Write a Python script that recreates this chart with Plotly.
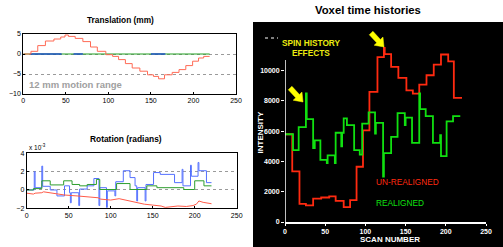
import math
import plotly.graph_objects as go

# ---------------- data ----------------
# Translation (mm): step-start scan numbers and levels
trans_scan = [0, 9, 17, 26, 36, 44, 49, 53, 61, 70, 79, 87, 97, 105, 112, 120, 128,
              137, 146, 153, 159, 166, 175, 183, 191, 199, 206, 212, 219]
trans_x = [0, 0.67, 2.1, 3.25, 3.75, 4.25, 4.75, 4.4, 3.9, 3.1, 1.75, 0.67, -0.17, -0.6,
           -1.4, -2.4, -3.5, -4.3, -5.2, -5.6, -6.2, -5.2, -4.6, -3.9, -2.9, -1.8, -1.0, -0.6, -0.6]
trans_y_scan = [0, 219]
trans_y = [0, 0]
trans_z_scan = [8, 45, None, 59, 70, None, 150, 167]
trans_z = [0, 0, None, 0, 0, None, 0, 0]

# Rotation (x 1e-3 radians)
rot_b_scan = [0, 9, 10, 18, 19, 28, 36, 45, 51, 52, 53, 62, 63, 72, 80, 86, 87, 95, 96,
              105, 106, 115, 123, 129, 131, 132, 141, 142, 151, 159, 176, 185, 186, 195,
              196, 204, 205, 214, 220]
rot_b = [0.0, 2.0, 0.25, 2.6, 0.4, 0.0, -0.65, 0.45, -0.3, -1.4, -0.3, -1.7, 0.1, 0.45,
         1.25, -1.7, 0.25, -1.9, -0.1, -0.65, 0.9, 2.1, 1.35, 0.45, -1.2, 0.25, -1.2, 0.6,
         1.9, 1.7, 0.8, 2.25, 0.45, 2.7, 1.5, 3.0, 2.1, 0.8, 0.8]
rot_g_scan = [0, 8, 18, 28, 44, 54, 63, 72, 83, 87, 107, 123, 143, 155, 187, 200, 211, 220]
rot_g = [0.0, 0.15, 1.0, 0.55, 1.0, 0.6, 0.45, 0.6, 1.15, 0.05, 0.7, 0.05, 0.45, 0.25,
         0.05, 1.0, 0.45, 0.45]
rot_r_scan = [0, 8, 10, 18, 20, 30, 45, 60, 75, 85, 88, 100, 110, 120, 130, 140, 150, 160,
              165, 170, 180, 190, 198, 202, 205, 210, 220]
rot_r = [-0.35, -0.45, -0.35, -0.3, -0.2, -0.35, -0.55, -0.65, -0.75, -0.85, -1.0, -1.1,
         -0.95, -1.15, -1.4, -1.55, -1.65, -1.75, -1.9, -1.85, -1.75, -1.8, -1.7, -1.55,
         -1.2, -1.35, -1.5]

# Voxel time histories (intensity)
red_scan = [0, 9, 18, 26, 35, 45, 55, 63, 73, 81, 89, 97, 105, 115, 123, 124, 132, 141,
            151, 159, 167, 176, 185, 194, 203, 210, 219]
red_val = [5800, 3350, 1200, 1100, 1550, 1620, 1700, 1400, 980, 1450, 3650, 6050, 8600,
           10900, 11500, 11100, 10250, 9520, 8700, 8480, 9080, 9700, 10400, 11070, 10620,
           8200, 8150]
green_scan = [0, 10, 17, 26, 27, 35, 37, 44, 52, 53, 62, 63, 70, 71, 73, 77, 86, 93, 96,
              104, 112, 113, 122, 123, 132, 140, 149, 150, 158, 167, 168, 175, 184, 193,
              194, 201, 209, 218]
green_val = [5800, 4750, 6270, 8500, 6800, 4880, 5400, 4100, 3900, 4400, 3900, 5900, 5000,
             5900, 6850, 6400, 4750, 4450, 6500, 7250, 5850, 6550, 3000, 4550, 5630, 7200,
             6400, 6900, 5230, 8500, 7460, 7000, 5230, 5740, 4350, 6650, 7000, 7000]

x_ticks = [0, 50, 100, 150, 200, 250]
trans_yticks = [-10, -5, 0, 5]
rot_yticks = [-2, 0, 2, 4]
vox_yticks = [0, 2000, 4000, 6000, 8000, 10000]
vox_yticktext = ["0", "2000", "4000", "6000", "8000", "10000"]

# ---------------- layout helpers ----------------
W, H = 503, 247
FONT = "Liberation Sans, Arial, sans-serif"


def px(x):
    return x / W


def py(y):
    return 1 - y / H


fig = go.Figure()

# translation
fig.add_trace(go.Scatter(x=trans_y_scan, y=trans_y, mode="lines", line=dict(color="#22a022", width=1),
                         xaxis="x", yaxis="y"))
fig.add_trace(go.Scatter(x=trans_z_scan, y=trans_z, mode="lines", line=dict(color="#2050c8", width=1.3),
                         xaxis="x", yaxis="y", connectgaps=False))
fig.add_trace(go.Scatter(x=trans_scan, y=trans_x, mode="lines", line=dict(color="#ff6a55", width=1, shape="hv"),
                         xaxis="x", yaxis="y"))
# rotation
fig.add_trace(go.Scatter(x=rot_b_scan, y=rot_b, mode="lines", line=dict(color="#5470ff", width=1, shape="hv"),
                         xaxis="x2", yaxis="y2"))
fig.add_trace(go.Scatter(x=rot_g_scan, y=rot_g, mode="lines", line=dict(color="#2e9e2e", width=1, shape="hv"),
                         xaxis="x2", yaxis="y2"))
fig.add_trace(go.Scatter(x=rot_r_scan, y=rot_r, mode="lines", line=dict(color="#ff5a48", width=1),
                         xaxis="x2", yaxis="y2"))
# voxel
fig.add_trace(go.Scatter(x=red_scan, y=red_val, mode="lines", line=dict(color="#ff2a10", width=1.8, shape="hv"),
                         xaxis="x3", yaxis="y3"))
fig.add_trace(go.Scatter(x=green_scan, y=green_val, mode="lines", line=dict(color="#10e010", width=1.8, shape="hv"),
                         xaxis="x3", yaxis="y3"))

left_axis = dict(showline=True, mirror=True, linecolor="black", linewidth=1, ticks="inside",
                 ticklen=2, tickcolor="black", tickfont=dict(family=FONT, size=7, color="black"),
                 zeroline=False, automargin=False)
right_tickfont = dict(family=FONT, size=7, color="white", weight="bold")

fig.update_layout(
    template="none",
    width=W, height=H, margin=dict(l=0, r=0, t=0, b=0, pad=0),
    paper_bgcolor="white", plot_bgcolor="rgba(0,0,0,0)", showlegend=False,
    xaxis=dict(domain=[px(23.3), px(236)], range=[0, 250], anchor="y", tickvals=x_ticks,
               showgrid=False, **left_axis),
    yaxis=dict(domain=[py(94), py(34)], range=[-10, 5], anchor="x", tickvals=trans_yticks,
               showgrid=True, gridcolor="#9a9a9a", griddash="dot", gridwidth=1, **left_axis),
    xaxis2=dict(domain=[px(26.7), px(236.7)], range=[0, 250], anchor="y2", tickvals=x_ticks,
                showgrid=False, **left_axis),
    yaxis2=dict(domain=[py(208.3), py(153.3)], range=[-2, 4], anchor="x2", tickvals=rot_yticks,
                showgrid=True, gridcolor="#9a9a9a", griddash="dot", gridwidth=1, **left_axis),
    xaxis3=dict(domain=[px(285), px(486)], range=[0, 250], anchor="y3", tickvals=x_ticks,
                showline=True, linecolor="white", linewidth=1.5, ticks="outside", ticklen=2,
                tickcolor="white", showgrid=False, zeroline=False, automargin=False,
                tickfont=right_tickfont),
    yaxis3=dict(domain=[py(222), py(25)], range=[0, 13020], anchor="x3", tickvals=vox_yticks,
                ticktext=vox_yticktext, showline=False, ticks="outside", ticklen=3,
                tickcolor="white", showgrid=False, zeroline=False, automargin=False,
                tickfont=right_tickfont),
)


def block_arrow(tip_x, tip_y, dx, dy, length=19, shaft=5, head_w=12, head_l=8):
    """Yellow block arrow polygon (pixel geometry -> paper path)."""
    n = math.hypot(dx, dy)
    ux, uy = dx / n, dy / n          # direction tail -> tip
    vx, vy = -uy, ux                 # perpendicular
    bx, by = tip_x - ux * head_l, tip_y - uy * head_l
    tx, ty = tip_x - ux * length, tip_y - uy * length
    pts = [
        (tip_x, tip_y),
        (bx + vx * head_w / 2, by + vy * head_w / 2),
        (bx + vx * shaft / 2, by + vy * shaft / 2),
        (tx + vx * shaft / 2, ty + vy * shaft / 2),
        (tx - vx * shaft / 2, ty - vy * shaft / 2),
        (bx - vx * shaft / 2, by - vy * shaft / 2),
        (bx - vx * head_w / 2, by - vy * head_w / 2),
    ]
    path = "M " + " L ".join(f"{px(x):.5f},{py(y):.5f}" for x, y in pts) + " Z"
    return dict(type="path", xref="paper", yref="paper", path=path,
                fillcolor="#ffff00", line=dict(color="#ffff00", width=0.5))


shapes = [
    dict(type="rect", xref="paper", yref="paper", x0=px(253), x1=1, y0=0, y1=py(22),
         fillcolor="black", line=dict(width=0), layer="below"),
    dict(type="line", xref="x3", yref="y3", x0=0, x1=0, y0=0, y1=10700,
         line=dict(color="white", width=1.5)),
    dict(type="line", xref="paper", yref="paper", x0=px(265), x1=px(278), y0=py(38), y1=py(38),
         line=dict(color="white", width=1, dash="dot")),
    block_arrow(384, 47, 12, 13),
    block_arrow(303, 102, 12, 13),
]
fig.update_layout(shapes=shapes)

ann = [
    dict(text="<b>Translation (mm)</b>", x=px(120), y=py(20), font=dict(size=8.3)),
    dict(text="<b>Rotation (radians)</b>", x=px(125.5), y=py(138.5), font=dict(size=8.4)),
    dict(text="<b>12 mm motion range</b>", x=px(27), y=py(84), xanchor="left",
         font=dict(size=9.5, color="#a0a0a0")),
    dict(text="x 10<sup>-3</sup>", x=px(27), y=py(146.5), xanchor="left", font=dict(size=6.5)),
    dict(text="<b>Voxel time histories</b>", x=px(368.3), y=py(10), font=dict(size=11.3)),
    dict(text="<b>SPIN HISTORY</b>", x=px(311), y=py(43), font=dict(size=8.3, color="#ecec10")),
    dict(text="<b>EFFECTS</b>", x=px(311), y=py(52.5), font=dict(size=8.3, color="#ecec10")),
    dict(text="UN-REALIGNED", x=px(374), y=py(182), xanchor="left", font=dict(size=8.3, color="#ff2a10")),
    dict(text="REALIGNED", x=px(374), y=py(203), xanchor="left", font=dict(size=8.3, color="#10e010")),
    dict(text="<b>SCAN NUMBER</b>", x=px(390), y=py(239), font=dict(size=8, color="white")),
    dict(text="<b>INTENSITY</b>", x=px(259.5), y=py(133), textangle=-90, font=dict(size=8, color="white")),
]
for a in ann:
    a.setdefault("xanchor", "center")
    a.update(xref="paper", yref="paper", showarrow=False, yanchor="middle")
    a["font"].setdefault("color", "black")
    a["font"]["family"] = FONT

fig.update_layout(annotations=ann)

fig.write_html("out.html", config={"displayModeBar": False},
               post_script="document.body.style.margin='0';document.body.style.overflow='hidden';")
